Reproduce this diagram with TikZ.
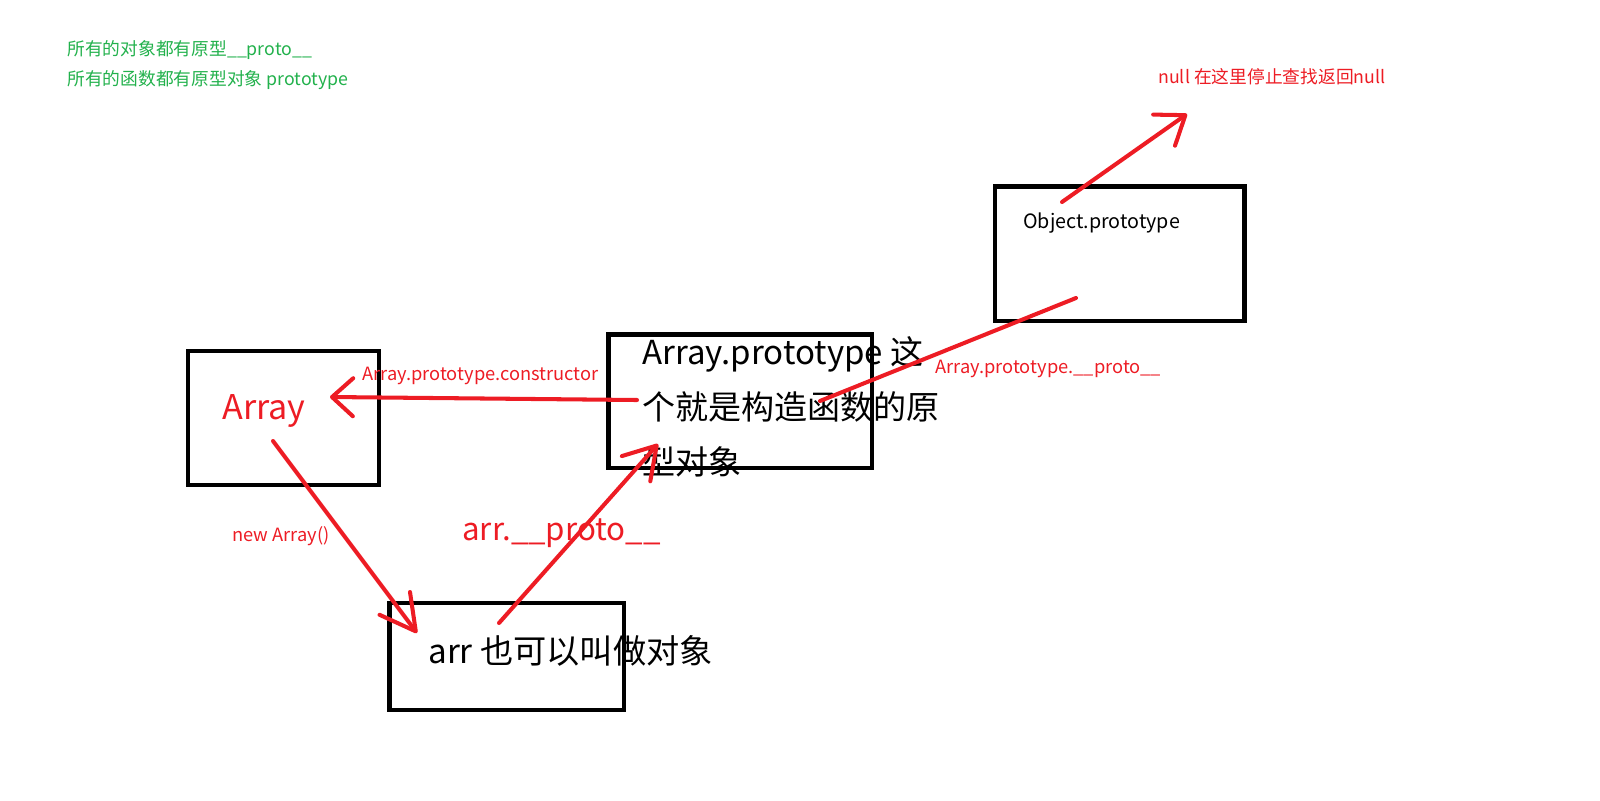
\documentclass[tikz,border=0pt]{standalone}
\usepackage{fontspec}
\setmainfont{Noto Sans CJK SC}
\usetikzlibrary{arrows.meta}
\definecolor{paintred}{HTML}{ED1C24}
\definecolor{paintgreen}{HTML}{22B14C}

\begin{document}
\begin{tikzpicture}[
        x=0.2mm, y=-0.2mm,
        box/.style={draw, line width=2.5pt, inner sep=0pt},
        lbl/.style={font=\fontsize{10.4}{13}\selectfont, inner sep=0pt, anchor=base west},
        note/.style={lbl, font=\fontsize{10.1}{12}\selectfont},
        biglbl/.style={font=\fontsize{18.9}{22}\selectfont, inner sep=0pt, anchor=base west},
        redline/.style={paintred, line width=2.3pt, line cap=round},
        redarr/.style={redline, -{Straight Barb[length=#1, width=7.6mm, round]}},
        redarr/.default=6mm
    ]
        \useasboundingbox (0,0) rectangle (1600,800);

        % boxes
        \node[box, minimum width=38.2mm, minimum height=26.8mm] (arrayBox) at (283.5, 418) {};
        \node[box, minimum width=52.7mm, minimum height=26.7mm] (protoBox) at (740.25, 401.25) {};
        \node[box, minimum width=49.9mm, minimum height=26.9mm] (objBox)   at (1119.75, 253.75) {};
        \node[box, minimum width=46.9mm, minimum height=21.4mm] (arrBox)   at (506.75, 656.5) {};

        % notes at the top
        \node[note, text=paintgreen] (noteObj) at (67, 55) {所有的对象都有原型\_\_proto\_\_};
        \node[note, text=paintgreen] (noteFn)  at (67, 85) {所有的函数都有原型对象 prototype};
        \node[note, text=paintred]   (nullTxt) at (1158, 83) {null 在这里停止查找返回null};

        % box texts
        \node[biglbl, text=paintred, font=\fontsize{19.4}{23}\selectfont] (arrayTxt) at (222, 419) {Array};
        \node[inner sep=0pt, anchor=north west, align=left, font=\fontsize{18.8}{31.4}\selectfont] (protoTxt) at (642, 336)
            {Array.prototype 这\\个就是构造函数的原\\型对象};
        \node[lbl, font=\fontsize{11.2}{13}\selectfont] (objTxt) at (1023, 228) {Object.prototype};
        \node[biglbl] (arrTxt) at (428, 663) {arr 也可以叫做对象};

        % connector labels
        \node[lbl, text=paintred] (ctorLbl)  at (362, 380) {Array.prototype.constructor};
        \node[lbl, text=paintred] (newLbl)   at (232, 541) {new Array()};
        \node[biglbl, text=paintred, font=\fontsize{17.8}{22}\selectfont] (arrProtoLbl) at (462, 540) {arr.\_\_proto\_\_};
        \node[lbl, text=paintred] (chainLbl) at (935, 373) {Array.prototype.\_\_proto\_\_};

        % free ends of the strokes
        \coordinate (ctorFrom)  at (637, 400);
        \coordinate (ctorTo)    at (330, 397);
        \coordinate (newFrom)   at (273, 441);
        \coordinate (newTo)     at (417, 633);
        \coordinate (arrFrom)   at (499, 623);
        \coordinate (arrTo)     at (658, 444);
        \coordinate (chainFrom) at (820, 401);
        \coordinate (chainTo)   at (1076, 298);
        \coordinate (nullFrom)  at (1062, 202);
        \coordinate (nullTo)    at (1187, 114);

        % red strokes
        \draw[redarr=4.2mm] (ctorFrom) -- (ctorTo);
        \draw[redarr=7mm]   (newFrom) -- (newTo);
        \draw[redarr=6.2mm] (arrFrom) -- (arrTo);
        \draw[redline]      (chainFrom) -- (chainTo);
        \draw[redarr=5.2mm] (nullFrom) -- (nullTo);
    \end{tikzpicture}
\end{document}
